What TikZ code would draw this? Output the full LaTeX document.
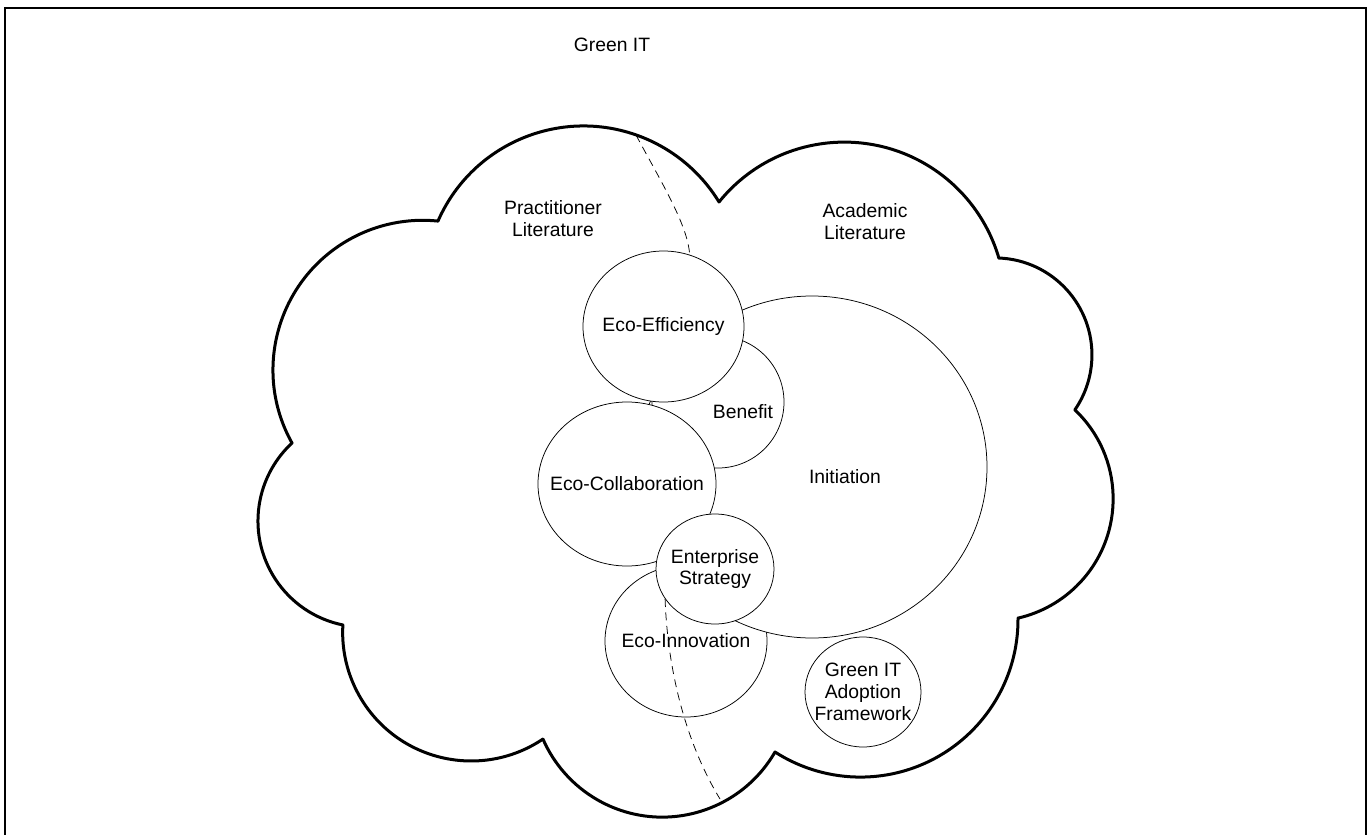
\documentclass[tikz,border=0pt]{standalone}
\usepackage{fontspec}
\setmainfont{Liberation Sans}
\usetikzlibrary{shapes.geometric}
\tikzset{
every node/.style={ % Sets the text of every node
font=\fontsize{11}{12.5}\selectfont,
align=center},
bubble/.style={ % White filled ellipse, drawn over what lies below
ellipse,
draw,
fill=white,
line width=0.15mm,
inner sep=0pt},
cloudline/.style={line width=0.6mm, line join=round},
frameline/.style={line width=0.4mm},
split/.style={ % Border between the two literatures
line width=0.15mm,
dash pattern=on 1.6mm off 1.1mm}}

\begin{document}
\begin{tikzpicture}[x=0.2mm, y=-0.2mm]
\useasboundingbox (0,0) rectangle (1368,835);
% frame, open at the bottom
\draw[frameline] (5,835) -- (5,8) -- (1366,8) -- (1366,835);
\node (title) at (612,45) {Green IT};
% cloud
\draw[cloudline] (438,221) arc[start angle=-156.3, end angle=-31.5, radius=158.9]
 -- (719,202) arc[start angle=-141.1, end angle=-16.2, radius=161]
 -- (999,258) arc[start angle=-87.6, end angle=34.5, radius=97]
 -- (1075,410) arc[start angle=-46.5, end angle=77.1, radius=122.4]
 -- (1018,618) arc[start angle=-0.5, end angle=122.7, radius=157.7]
 -- (775,752) arc[start angle=30, end angle=156.4, radius=130.2]
 -- (543,739) arc[start angle=56, end angle=183.4, radius=128.5]
 -- (343,625) arc[start angle=101.5, end angle=227.2, radius=106.2]
 -- (292,443) arc[start angle=150.8, end angle=275.9, radius=149.7] -- cycle;
\coordinate (dashtop) at (636,135);
\coordinate (dashbot) at (720,799);
\node (prac) at (553,219) {Practitioner\\Literature};
\node (acad) at (865,222) {Academic\\Literature};
% bubbles, from back to front
\node[bubble, minimum width=32.4mm, minimum height=30.4mm, label=center:Eco-Innovation] (innov) at (686,641) {};
\node[bubble, minimum width=70mm, minimum height=68.4mm, label={[xshift=6.6mm, yshift=-2mm]center:Initiation}] (init) at (812,467) {};
\node[bubble, minimum width=26.4mm, minimum height=26.4mm, label={[xshift=5mm, yshift=-2mm]center:Benefit}] (benef) at (718,402) {};
\node[bubble, minimum width=32.2mm, minimum height=30.2mm, label=center:Eco-Efficiency] (effic) at (663.5,326.5) {};
\node[bubble, minimum width=35.6mm, minimum height=32.8mm, label=center:Eco-Collaboration] (collab) at (627,484) {};
\node[bubble, minimum width=23.6mm, minimum height=22mm, label=center:{Enterprise\\Strategy}] (strat) at (715,569) {};
\node[bubble, minimum width=23.2mm, minimum height=22mm, label=center:{Green IT\\Adoption\\Framework}] (frame) at (863,692) {};
\draw[split] (dashtop) .. controls (660,180) and (688,225) .. (effic.70);
\draw[split] (strat.211) .. controls (668,680) and (690,750) .. (dashbot);
\end{tikzpicture}
\end{document}
